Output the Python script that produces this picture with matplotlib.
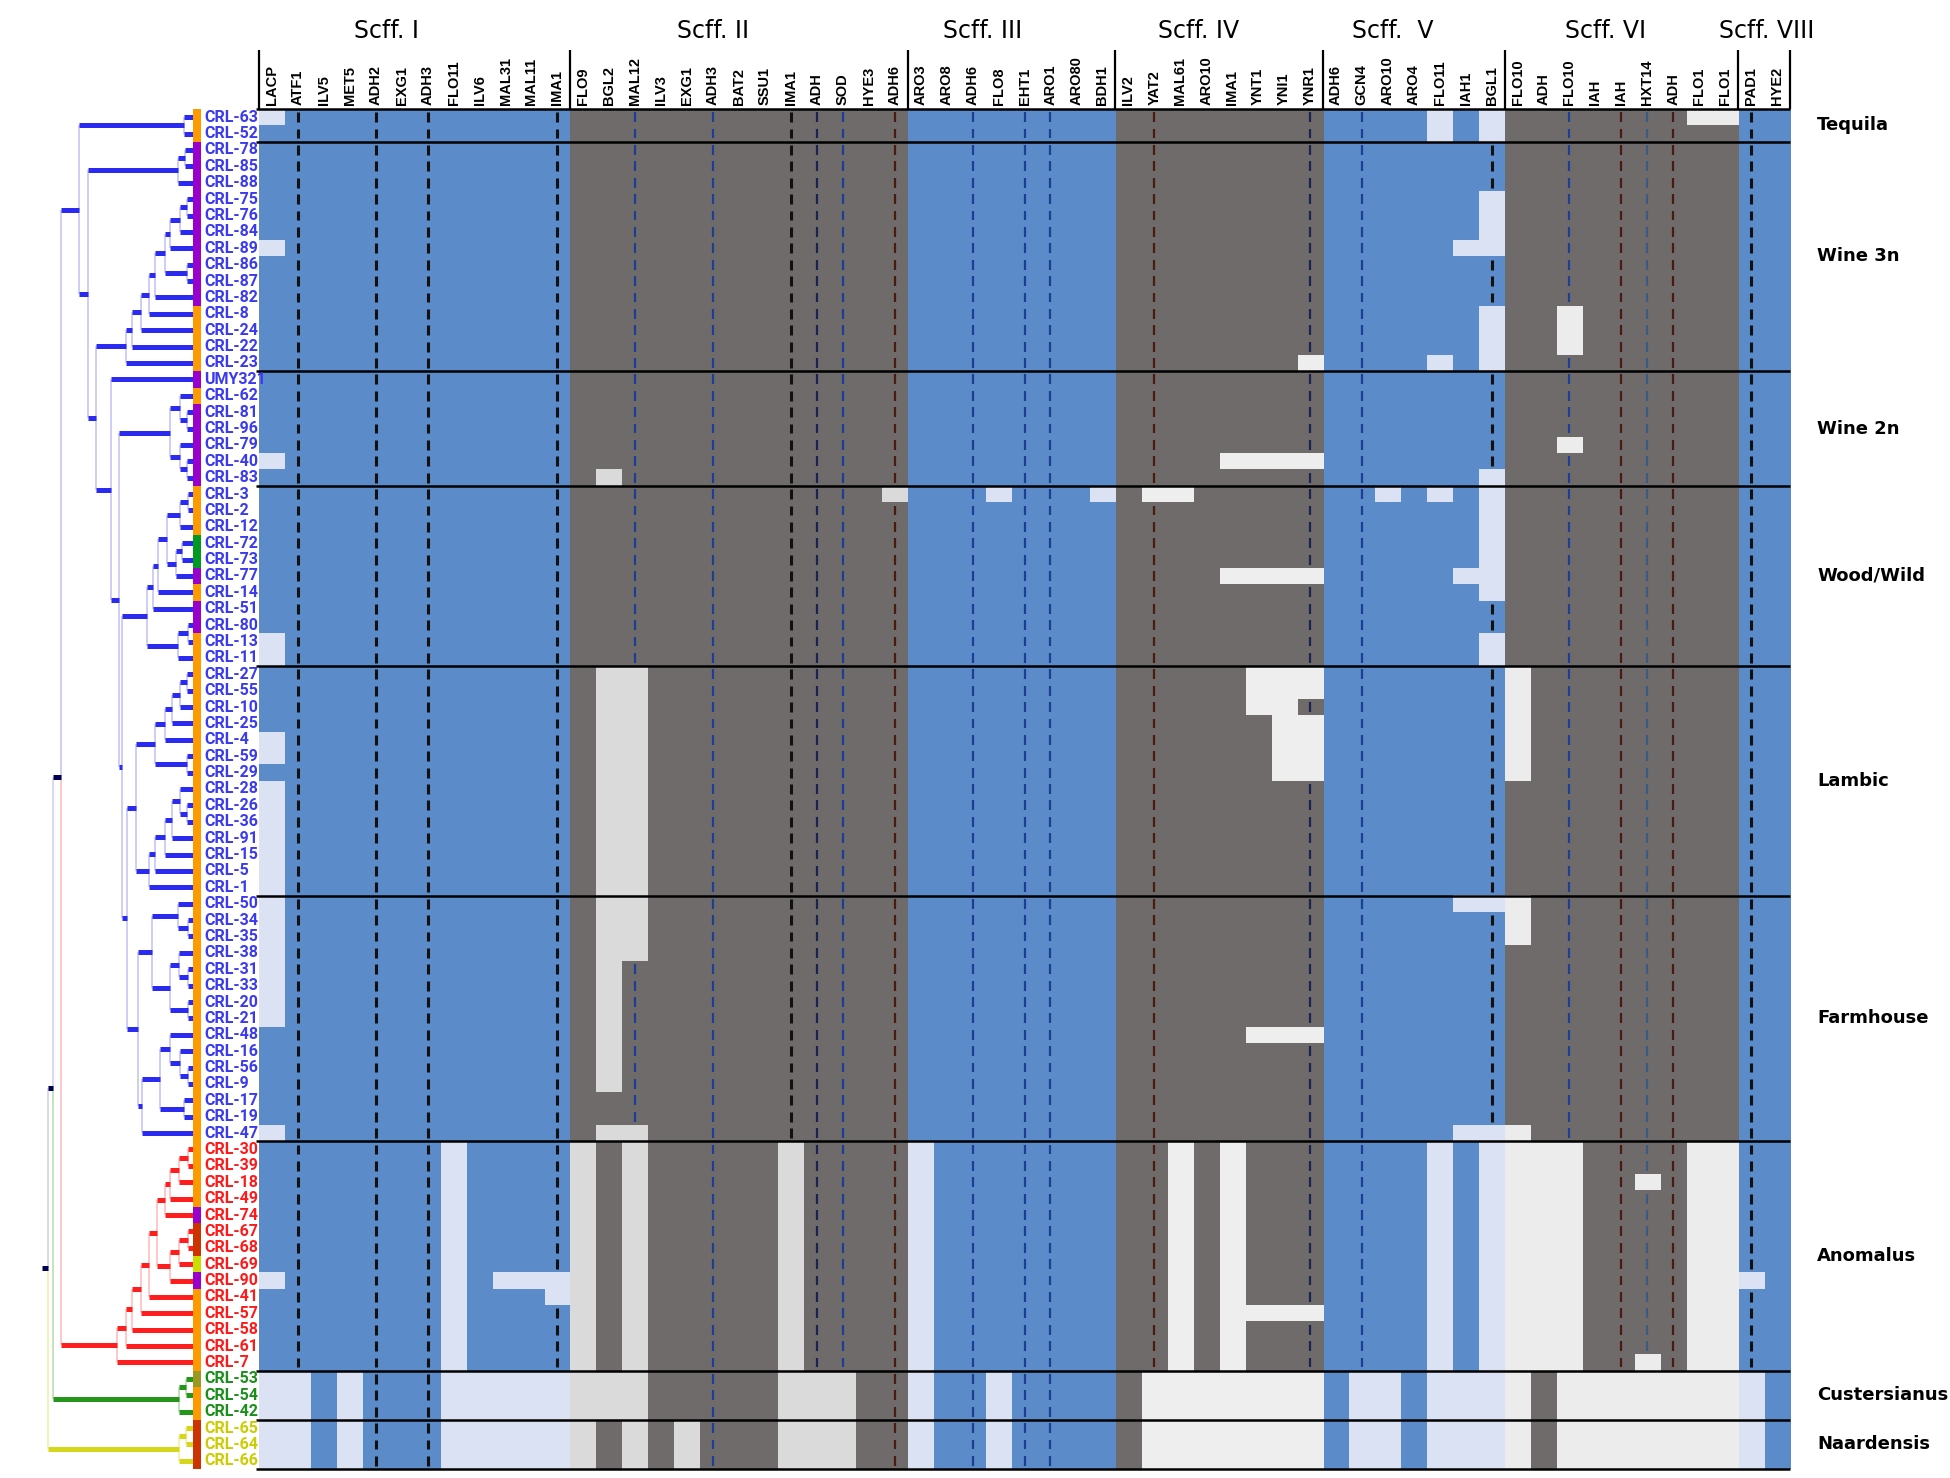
import numpy as np
import matplotlib
matplotlib.use("Agg")
import matplotlib.pyplot as plt
from matplotlib.colors import to_rgb

plt.rcParams['font.family'] = ['DejaVu Sans']

# ---------------- data ----------------
strains = ['CRL-63', 'CRL-52',
           'CRL-78', 'CRL-85', 'CRL-88', 'CRL-75', 'CRL-76', 'CRL-84', 'CRL-89', 'CRL-86', 'CRL-87', 'CRL-82',
           'CRL-8', 'CRL-24', 'CRL-22', 'CRL-23',
           'UMY321', 'CRL-62', 'CRL-81', 'CRL-96', 'CRL-79', 'CRL-40', 'CRL-83',
           'CRL-3', 'CRL-2', 'CRL-12', 'CRL-72', 'CRL-73', 'CRL-77', 'CRL-14', 'CRL-51', 'CRL-80', 'CRL-13', 'CRL-11',
           'CRL-27', 'CRL-55', 'CRL-10', 'CRL-25', 'CRL-4', 'CRL-59', 'CRL-29', 'CRL-28', 'CRL-26', 'CRL-36',
           'CRL-91', 'CRL-15', 'CRL-5', 'CRL-1',
           'CRL-50', 'CRL-34', 'CRL-35', 'CRL-38', 'CRL-31', 'CRL-33', 'CRL-20', 'CRL-21', 'CRL-48', 'CRL-16',
           'CRL-56', 'CRL-9', 'CRL-17', 'CRL-19', 'CRL-47',
           'CRL-30', 'CRL-39', 'CRL-18', 'CRL-49', 'CRL-74', 'CRL-67', 'CRL-68', 'CRL-69', 'CRL-90', 'CRL-41',
           'CRL-57', 'CRL-58', 'CRL-61', 'CRL-7',
           'CRL-53', 'CRL-54', 'CRL-42',
           'CRL-65', 'CRL-64', 'CRL-66']

group_names = ['Tequila', 'Wine 3n', 'Wine 2n', 'Wood/Wild', 'Lambic', 'Farmhouse',
               'Anomalus', 'Custersianus', 'Naardensis']
group_sizes = [2, 14, 7, 11, 14, 15, 14, 3, 3]
group_clade = ['cer', 'cer', 'cer', 'cer', 'cer', 'cer', 'ano', 'cus', 'naa']

# origin code of every strain (colour strip next to the names)
origin = ("OO" + "P" * 10 + "OOOO" + "P" + "O" + "PPPPP" + "OOO" + "GG" + "P" + "O" + "PP"
          + "O" * 35 + "P" + "RR" + "Y" + "P" + "OOOOO" + "V" + "OO" + "RRR")

scaffolds = ['Scff. I', 'Scff. II', 'Scff. III', 'Scff. IV', 'Scff.  V', 'Scff. VI', 'Scff. VIII']
genes_I = ['LACP', 'ATF1', 'ILV5', 'MET5', 'ADH2', 'EXG1', 'ADH3', 'FLO11', 'ILV6', 'MAL31', 'MAL11', 'IMA1']
genes_II = ['FLO9', 'BGL2', 'MAL12', 'ILV3', 'EXG1', 'ADH3', 'BAT2', 'SSU1', 'IMA1', 'ADH', 'SOD', 'HYE3', 'ADH6']
genes_III = ['ARO3', 'ARO8', 'ADH6', 'FLO8', 'EHT1', 'ARO1', 'ARO80', 'BDH1']
genes_IV = ['ILV2', 'YAT2', 'MAL61', 'ARO10', 'IMA1', 'YNT1', 'YNI1', 'YNR1']
genes_V = ['ADH6', 'GCN4', 'ARO10', 'ARO4', 'FLO11', 'IAH1', 'BGL1']
genes_VI = ['FLO10', 'ADH', 'FLO10', 'IAH', 'IAH', 'HXT14', 'ADH', 'FLO1', 'FLO1']
genes_VIII = ['PAD1', 'HYE2']
scaffold_genes = [genes_I, genes_II, genes_III, genes_IV, genes_V, genes_VI, genes_VIII]

# absent genes: (first row, last row, first column, last column)
absent = [
    (0, 0, 0, 0), (8, 8, 0, 0), (21, 21, 0, 0), (32, 33, 0, 0), (38, 39, 0, 0), (41, 55, 0, 0),
    (62, 62, 0, 0), (71, 71, 0, 0), (63, 76, 7, 7), (71, 71, 9, 11), (72, 72, 11, 11),
    (77, 82, 0, 1), (77, 82, 3, 3), (77, 82, 7, 11),
    (22, 22, 13, 13), (23, 23, 24, 24), (34, 51, 13, 14), (52, 59, 13, 13), (62, 62, 13, 14),
    (63, 82, 12, 12), (63, 82, 14, 14), (77, 79, 13, 13), (63, 76, 20, 20), (77, 82, 20, 22),
    (80, 82, 16, 16),
    (23, 23, 28, 28), (23, 23, 32, 32), (63, 82, 25, 25), (77, 82, 28, 28),
    (15, 15, 40, 40), (21, 21, 37, 40), (23, 23, 34, 35), (28, 28, 37, 40), (34, 35, 38, 40),
    (36, 36, 38, 39), (37, 40, 39, 40), (56, 56, 38, 40), (63, 76, 35, 35), (63, 76, 37, 37),
    (73, 73, 38, 40), (77, 82, 34, 40),
    (0, 1, 45, 45), (0, 1, 47, 47), (5, 8, 47, 47), (8, 8, 46, 46), (12, 15, 47, 47), (15, 15, 45, 45),
    (22, 29, 47, 47), (23, 23, 43, 43), (23, 23, 45, 45), (28, 28, 46, 46), (32, 33, 47, 47),
    (48, 48, 46, 47), (62, 62, 46, 47), (63, 82, 45, 45), (63, 82, 47, 47), (77, 82, 42, 43),
    (77, 82, 46, 46),
    (0, 0, 55, 56), (12, 14, 50, 50), (20, 20, 50, 50), (34, 40, 48, 48), (48, 50, 48, 48),
    (62, 62, 48, 48), (63, 82, 48, 48), (63, 76, 49, 50), (77, 82, 50, 56), (65, 65, 53, 53),
    (76, 76, 53, 53), (63, 76, 55, 56),
    (71, 71, 57, 57), (77, 82, 57, 57),
]

# columns carrying a mark in every strain that has the gene
mark_cols = [1, 4, 6, 11, 14, 17, 20, 21, 22, 24, 27, 29, 30, 34, 40, 42, 47, 50, 52, 53, 54, 57]
mark_kind = ['k', 'k', 'k', 'k', 'b', 'b', 'k', 'd', 'b', 'r', 'b', 'b', 'b', 'r', 'd', 'b', 'k',
             'b', 'r', 's', 'r', 'k']

# dendrogram merges: (node, distance, child, child); leaves are row numbers
tree = [
    ('T', 9, 0, 1),
    ('a23', 8, 2, 3), ('Wa', 15, 'a23', 4),
    ('a56', 6, 5, 6), ('b7', 13, 'a56', 7), ('c8', 23, 'b7', 8), ('d910', 6, 9, 10),
    ('e', 28, 'c8', 'd910'), ('n11', 38, 'e', 11), ('n12', 44, 'n11', 12), ('n13', 52, 'n12', 13),
    ('n14', 61, 'n13', 14), ('W3b', 67, 'n14', 15),
    ('g1819', 6, 18, 19), ('g17', 13, 17, 'g1819'), ('g2122', 6, 21, 22), ('g20', 13, 20, 'g2122'),
    ('W2', 23, 'g17', 'g20'),
    ('h1', 5, 23, 24), ('h2', 13, 'h1', 25), ('h3', 11, 26, 27), ('h4', 17, 'h3', 28),
    ('h5', 26, 'h2', 'h4'), ('h6', 35, 'h5', 29), ('h7', 40, 'h6', 30), ('h8', 5, 31, 32),
    ('h9', 15, 'h8', 33), ('Wood', 46, 'h7', 'h9'),
    ('l1', 6, 34, 35), ('l2', 13, 'l1', 36), ('l3', 21, 'l2', 37), ('l4', 28, 'l3', 38),
    ('l5', 6, 39, 40), ('Lup', 38, 'l4', 'l5'), ('l6', 6, 42, 43), ('l7', 13, 41, 'l6'),
    ('l8', 21, 'l7', 44), ('l9', 28, 'l8', 45), ('l10', 38, 'l9', 46), ('Llow', 44, 'l10', 47),
    ('Lam', 57, 'Lup', 'Llow'),
    ('f1a', 5, 49, 50), ('f1', 15, 48, 'f1a'), ('f2a', 5, 52, 53), ('f2b', 14, 51, 'f2a'),
    ('f2c', 5, 54, 55), ('f2', 23, 'f2b', 'f2c'), ('f12', 41, 'f1', 'f2'),
    ('f3a', 5, 58, 59), ('f3b', 13, 57, 'f3a'), ('f3c', 23, 56, 'f3b'), ('f3d', 9, 60, 61),
    ('f3', 33, 'f3c', 'f3d'), ('Flow', 51, 'f3', 62), ('Farm', 55, 'f12', 'Flow'),
    ('LF', 66, 'Lam', 'Farm'), ('R', 71, 'Wood', 'LF'), ('Q2', 74, 'W2', 'R'), ('U', 82, 16, 'Q2'),
    ('Y', 97, 'W3b', 'U'), ('X', 105, 'Wa', 'Y'), ('CER', 114.5, 'T', 'X'),
    ('m1', 5, 63, 64), ('m2', 14, 'm1', 65), ('m3', 23, 'm2', 66), ('m4', 28, 'm3', 67),
    ('m5', 5, 68, 69), ('m6', 14, 'm5', 70), ('m7', 23, 'm6', 71), ('m8', 36, 'm4', 'm7'),
    ('m9', 44, 'm8', 72), ('m10', 52, 'm9', 73), ('m11', 61, 'm10', 74), ('m12', 67, 'm11', 75),
    ('ANO', 76, 'm12', 76),
    ('c1', 7, 77, 78), ('CUS', 14, 'c1', 79),
    ('n1', 7, 80, 81), ('NAA', 14, 'n1', 82),
    ('P1', 132, 'CER', 'ANO'), ('P2', 140, 'P1', 'CUS'), ('ROOT', 145, 'P2', 'NAA'),
]
root_stub = 151

# ---------------- styles ----------------
scaff_base = ['#5b8bc9', '#6f6b6b', '#5b8bc9', '#6f6b6b', '#5b8bc9', '#6f6b6b', '#5b8bc9']
scaff_light = ['#dae2f3', '#dadada', '#dae2f3', '#eeeeee', '#dae2f3', '#ececec', '#dae2f3']
origin_colors = {'O': '#ff9900', 'P': '#9900cc', 'G': '#009922', 'R': '#cc3300',
                 'Y': '#ccdd00', 'V': '#999922'}
mark_colors = {'k': '#111111', 'b': '#1c3f93', 'd': '#1a2450', 'r': '#4a1c10', 's': '#3d5a86'}
clade_strong = {'cer': '#2a2af0', 'ano': '#ff1e1e', 'cus': '#24961a', 'naa': '#d6d61a', 'top': '#000055'}
clade_pale = {'cer': '#c9c9f7', 'ano': '#ffc4c4', 'cus': '#c0e0b8', 'naa': '#f2f2b0', 'top': '#d6d6ee'}
label_colors = {'cer': '#3a3aee', 'ano': '#ff1a1a', 'cus': '#1a8f1a', 'naa': '#cccc00'}

n_rows = len(strains)
genes = [g for gs in scaffold_genes for g in gs]
n_cols = len(genes)
scaff_of_col = np.concatenate([[i] * len(gs) for i, gs in enumerate(scaffold_genes)])
bounds = np.cumsum([0] + [len(gs) for gs in scaffold_genes])

present = np.ones((n_rows, n_cols), dtype=bool)
for r0, r1, c0, c1 in absent:
    present[r0:r1 + 1, c0:c1 + 1] = False

rgb = np.zeros((n_rows, n_cols, 3))
for c in range(n_cols):
    s = scaff_of_col[c]
    for r in range(n_rows):
        rgb[r, c] = to_rgb(scaff_base[s] if present[r, c] else scaff_light[s])

# ---------------- figure ----------------
W, H = 1950, 1478
fig = plt.figure(figsize=(W / 100, H / 100), dpi=100)
hx0, hx1, hy0, hy1 = 259, 1790, 109, 1469
ax = fig.add_axes([hx0 / W, 1 - hy1 / H, (hx1 - hx0) / W, (hy1 - hy0) / H])
ax.imshow(rgb, aspect='auto', interpolation='nearest',
          extent=(-0.5, n_cols - 0.5, n_rows - 0.5, -0.5))
ax.set_xlim(-0.5, n_cols - 0.5)
ax.set_ylim(n_rows - 0.5, -0.5)
ax.axis('off')
cw = (hx1 - hx0) / n_cols
rh = (hy1 - hy0) / n_rows

# marks
for c, k in zip(mark_cols, mark_kind):
    rows = np.where(present[:, c])[0]
    lw = 2.2 if k == 'k' else 1.6
    ax.vlines(np.full(len(rows), c), rows - 0.3, rows + 0.3, color=mark_colors[k], lw=lw)

# group separators
edges = np.cumsum([0] + group_sizes) - 0.5
ax.hlines(edges, -0.6, n_cols - 0.5, color='black', lw=1.8, clip_on=False)

# header
ax.vlines(bounds - 0.5, -4.1, -0.5, color='black', lw=1.6, clip_on=False)
for c, g in enumerate(genes):
    ax.text(c, -0.72, g, rotation=90, ha='center', va='bottom', fontsize=10.5,
            fontweight='bold', family='Liberation Sans', clip_on=False)
title_shift = [-1.1, -1.0, -1.1, -0.8, -0.8, -0.6, 0.1]
for i, name in enumerate(scaffolds):
    xc = (bounds[i] + bounds[i + 1] - 1) / 2 + title_shift[i]
    ax.text(xc, -5.25, name, ha='center', va='center', fontsize=17)

# strain names and colour strip
strip_left = -0.5 - (hx0 - 193) / cw
strip_w = 8 / cw
ax.barh(np.arange(n_rows), strip_w, left=strip_left, height=1.0,
        color=[origin_colors[o] for o in origin], clip_on=False)
row_clade = np.repeat(group_clade, group_sizes)
for r, s in enumerate(strains):
    ax.text(-0.5 - (hx0 - 204) / cw, r, s, ha='left', va='center', fontsize=11.5,
            fontweight='bold', family='Roboto', color=label_colors[row_clade[r]],
            clip_on=False, zorder=5)

# group labels
for i, g in enumerate(group_names):
    yc = (edges[i] + edges[i + 1]) / 2
    ax.text(n_cols - 0.5 + (1817 - hx1) / cw, yc, g, ha='left', va='center',
            fontsize=13, fontweight='bold', clip_on=False)

# ---------------- dendrogram ----------------
dax = fig.add_axes([0, 1 - hy1 / H, 193 / W, (hy1 - hy0) / H])
dax.set_xlim(193, 0)
dax.set_ylim(n_rows - 0.5, -0.5)
dax.axis('off')

pos = {r: (0.0, float(r)) for r in range(n_rows)}
for name, d, a, b in tree:
    pos[name] = (d, (pos[a][1] + pos[b][1]) / 2)

clade_roots = {'CER': 'cer', 'ANO': 'ano', 'CUS': 'cus', 'NAA': 'naa'}
clade = {'ROOT': 'top'}
for name, d, a, b in reversed(tree):
    for ch in (a, b):
        clade[ch] = clade_roots.get(ch, clade[name])
clade['P1'] = clade['P2'] = 'top'

for name, d, a, b in tree:
    for ch in (a, b):
        cd, cy = pos[ch]
        dax.plot([d, d], [pos[name][1], cy], color=clade_pale[clade[ch]], lw=1.3,
                 solid_capstyle='butt', zorder=1)
for name, d, a, b in tree:
    for ch in (a, b):
        cd, cy = pos[ch]
        dax.plot([d, cd], [cy, cy], color=clade_strong[clade[ch]], lw=3.6,
                 solid_capstyle='butt', zorder=2)
rd, ry = pos['ROOT']
dax.plot([root_stub, rd], [ry, ry], color=clade_strong['top'], lw=3.6, solid_capstyle='butt')

fig.savefig('out.png', dpi=100)
